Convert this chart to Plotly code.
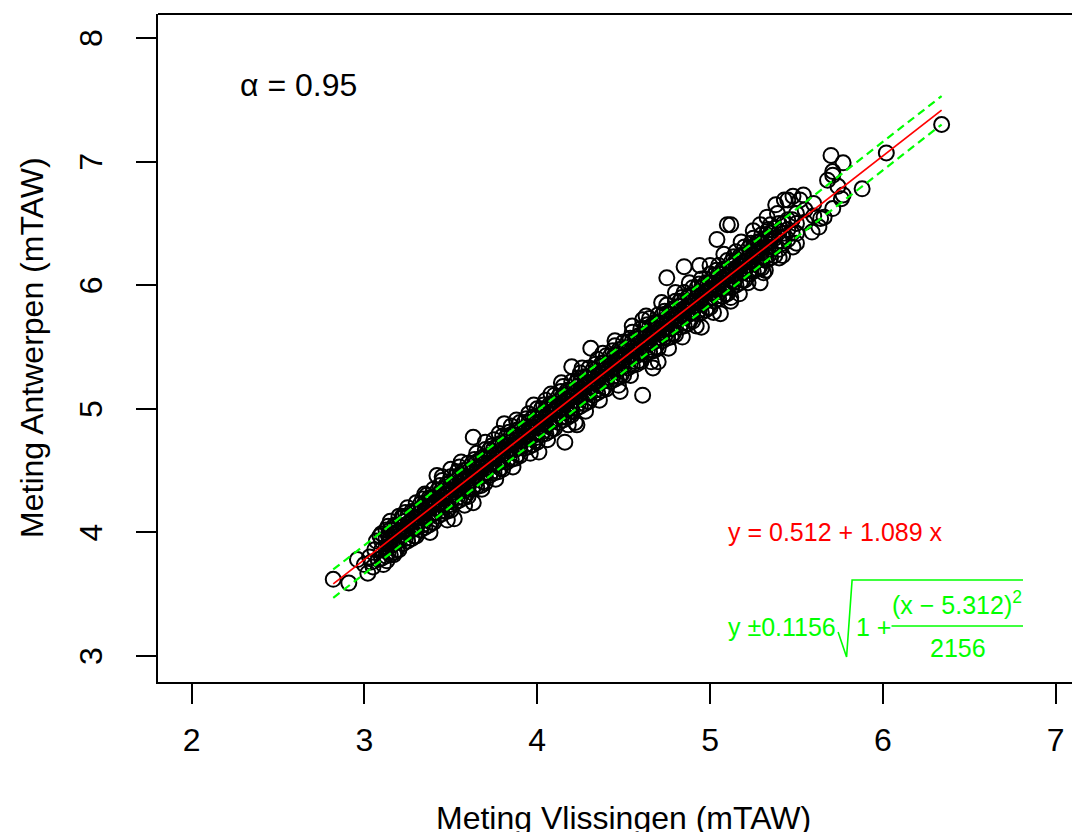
import plotly.graph_objects as go

# dense part of the cloud, one column of y values per x position
band_x = [3.10, 3.125, 3.15, 3.175, 3.20, 3.225, 3.25, 3.275, 3.30, 3.325,
          3.35, 3.375, 3.40, 3.425, 3.45, 3.475, 3.50, 3.525, 3.55, 3.575,
          3.60, 3.625, 3.65, 3.675, 3.70, 3.725, 3.75, 3.775, 3.80, 3.825,
          3.85, 3.875, 3.90, 3.925, 3.95, 3.975, 4.00, 4.025, 4.05, 4.075,
          4.10, 4.125, 4.15, 4.175, 4.20, 4.225, 4.25, 4.275, 4.30, 4.325,
          4.35, 4.375, 4.40, 4.425, 4.45, 4.475, 4.50, 4.525, 4.55, 4.575,
          4.60, 4.625, 4.65, 4.675, 4.70, 4.725, 4.75, 4.775, 4.80, 4.825,
          4.85, 4.875, 4.90, 4.925, 4.95, 4.975, 5.00, 5.025, 5.05, 5.075,
          5.10, 5.125, 5.15, 5.175, 5.20, 5.225, 5.25, 5.275, 5.30, 5.325,
          5.35, 5.375, 5.40, 5.425, 5.45, 5.475, 5.50, 5.55, 5.60]
band_y = [
    [3.79, 3.86, 3.93, 3.99], [3.81, 3.88, 3.95, 4.02], [3.82, 3.89, 3.96, 4.02, 4.09],
    [3.84, 3.91, 3.98, 4.06], [3.86, 3.93, 4.00, 4.06, 4.13], [3.91, 3.98, 4.05, 4.12],
    [3.93, 4.00, 4.07, 4.13, 4.20], [3.95, 4.02, 4.09, 4.17], [3.97, 4.04, 4.11, 4.17, 4.24],
    [4.02, 4.09, 4.16, 4.23], [4.04, 4.11, 4.18, 4.24, 4.31], [4.06, 4.13, 4.20, 4.28],
    [4.08, 4.15, 4.22, 4.28, 4.35], [4.13, 4.20, 4.27, 4.34], [4.15, 4.22, 4.29, 4.35, 4.42],
    [4.17, 4.24, 4.31, 4.39], [4.18, 4.25, 4.32, 4.38, 4.45], [4.24, 4.31, 4.38, 4.45],
    [4.26, 4.33, 4.40, 4.46, 4.53], [4.28, 4.35, 4.42, 4.50], [4.29, 4.36, 4.43, 4.49, 4.56],
    [4.35, 4.42, 4.49, 4.56], [4.37, 4.44, 4.51, 4.57, 4.64], [4.38, 4.45, 4.52, 4.60],
    [4.40, 4.47, 4.54, 4.60, 4.67], [4.46, 4.53, 4.60, 4.67], [4.48, 4.55, 4.62, 4.68, 4.75],
    [4.49, 4.56, 4.63, 4.71], [4.51, 4.58, 4.65, 4.71, 4.78], [4.57, 4.64, 4.71, 4.78],
    [4.59, 4.66, 4.73, 4.79, 4.86], [4.60, 4.67, 4.74, 4.82], [4.62, 4.69, 4.76, 4.82, 4.89],
    [4.68, 4.75, 4.82, 4.89], [4.69, 4.76, 4.83, 4.89, 4.96], [4.71, 4.78, 4.85, 4.93],
    [4.73, 4.80, 4.87, 4.93, 5.00], [4.79, 4.86, 4.93, 5.00], [4.80, 4.87, 4.94, 5.00, 5.07],
    [4.82, 4.89, 4.96, 5.04], [4.84, 4.91, 4.98, 5.04, 5.11], [4.89, 4.96, 5.03, 5.10],
    [4.91, 4.98, 5.05, 5.11, 5.18], [4.93, 5.00, 5.07, 5.15], [4.95, 5.02, 5.09, 5.15, 5.22],
    [5.00, 5.07, 5.14, 5.21], [5.02, 5.09, 5.16, 5.22, 5.29], [5.04, 5.11, 5.18, 5.26],
    [5.06, 5.13, 5.20, 5.26, 5.33], [5.11, 5.18, 5.25, 5.32], [5.13, 5.20, 5.27, 5.33, 5.40],
    [5.15, 5.22, 5.29, 5.37], [5.16, 5.23, 5.30, 5.36, 5.43], [5.22, 5.29, 5.36, 5.43],
    [5.24, 5.31, 5.38, 5.44, 5.51], [5.26, 5.33, 5.40, 5.48], [5.27, 5.34, 5.41, 5.47, 5.54],
    [5.33, 5.40, 5.47, 5.54], [5.35, 5.42, 5.49, 5.55, 5.62], [5.36, 5.43, 5.50, 5.58],
    [5.38, 5.45, 5.52, 5.58, 5.65], [5.44, 5.51, 5.58, 5.65], [5.46, 5.53, 5.60, 5.66, 5.73],
    [5.47, 5.54, 5.61, 5.69], [5.49, 5.56, 5.63, 5.69, 5.76], [5.55, 5.62, 5.69, 5.76],
    [5.57, 5.64, 5.71, 5.77, 5.84], [5.58, 5.65, 5.72, 5.80], [5.60, 5.67, 5.74, 5.80, 5.87],
    [5.66, 5.73, 5.80, 5.87], [5.67, 5.74, 5.81, 5.87, 5.94], [5.69, 5.76, 5.83, 5.91],
    [5.71, 5.78, 5.85, 5.91, 5.98], [5.77, 5.84, 5.91, 5.98], [5.78, 5.85, 5.92, 5.98, 6.05],
    [5.80, 5.87, 5.94, 6.02], [5.82, 5.89, 5.96, 6.02, 6.09], [5.87, 5.94, 6.01, 6.08],
    [5.89, 5.96, 6.03, 6.09, 6.16], [5.91, 5.98, 6.05, 6.13], [5.93, 6.00, 6.07, 6.13, 6.20],
    [5.98, 6.05, 6.12, 6.19], [6.00, 6.07, 6.14, 6.20, 6.27], [6.02, 6.09, 6.16, 6.24],
    [6.04, 6.11, 6.18, 6.24, 6.31], [6.09, 6.16, 6.23, 6.30], [6.11, 6.18, 6.25, 6.31, 6.38],
    [6.13, 6.20, 6.27, 6.35], [6.14, 6.21, 6.28, 6.34, 6.41], [6.20, 6.27, 6.34, 6.41],
    [6.22, 6.29, 6.36, 6.42, 6.49], [6.24, 6.31, 6.38, 6.46], [6.29, 6.36, 6.43, 6.50],
    [6.34, 6.42, 6.50], [6.37, 6.45, 6.53], [6.42, 6.53], [6.42, 6.50, 6.58],
    [6.51, 6.61], [6.56, 6.66],
]

# more of the dense part, in between the columns above
fill_x = [3.1375, 3.1875, 3.2375, 3.2875, 3.3375, 3.3875, 3.4375, 3.4875, 3.5375, 3.5875,
          3.6375, 3.6875, 3.7375, 3.7875, 3.8375, 3.8875, 3.9375, 3.9875, 4.0375, 4.0875,
          4.1375, 4.1875, 4.2375, 4.2875, 4.3375, 4.3875, 4.4375, 4.4875, 4.5375, 4.5875,
          4.6375, 4.6875, 4.7375, 4.7875, 4.8375, 4.8875, 4.9375, 4.9875, 5.0375, 5.0875,
          5.1375, 5.1875, 5.2375, 5.2875, 5.3375]
fill_y = [
    [3.84, 3.91, 3.98, 4.05], [3.86, 3.93, 4.00, 4.06], [3.95, 4.02, 4.09, 4.16],
    [3.97, 4.04, 4.11, 4.17], [4.06, 4.13, 4.20, 4.27], [4.08, 4.15, 4.22, 4.28],
    [4.17, 4.24, 4.31, 4.38], [4.19, 4.26, 4.33, 4.39], [4.28, 4.35, 4.42, 4.49],
    [4.30, 4.37, 4.44, 4.50], [4.38, 4.45, 4.52, 4.59], [4.41, 4.48, 4.55, 4.61],
    [4.49, 4.56, 4.63, 4.70], [4.52, 4.59, 4.66, 4.72], [4.60, 4.67, 4.74, 4.81],
    [4.63, 4.70, 4.77, 4.83], [4.71, 4.78, 4.85, 4.92], [4.74, 4.81, 4.88, 4.94],
    [4.82, 4.89, 4.96, 5.03], [4.84, 4.91, 4.98, 5.04], [4.93, 5.00, 5.07, 5.14],
    [4.95, 5.02, 5.09, 5.15], [5.04, 5.11, 5.18, 5.25], [5.06, 5.13, 5.20, 5.26],
    [5.15, 5.22, 5.29, 5.36], [5.17, 5.24, 5.31, 5.37], [5.26, 5.33, 5.40, 5.47],
    [5.28, 5.35, 5.42, 5.48], [5.36, 5.43, 5.50, 5.57], [5.39, 5.46, 5.53, 5.59],
    [5.47, 5.54, 5.61, 5.68], [5.50, 5.57, 5.64, 5.70], [5.58, 5.65, 5.72, 5.79],
    [5.61, 5.68, 5.75, 5.81], [5.69, 5.76, 5.83, 5.90], [5.72, 5.79, 5.86, 5.92],
    [5.80, 5.87, 5.94, 6.01], [5.82, 5.89, 5.96, 6.02], [5.91, 5.98, 6.05, 6.12],
    [5.93, 6.00, 6.07, 6.13], [6.02, 6.09, 6.16, 6.23], [6.04, 6.11, 6.18, 6.24],
    [6.13, 6.20, 6.27, 6.34], [6.15, 6.22, 6.29, 6.35], [6.24, 6.31, 6.38, 6.45],
]

# loose points: edges of the cloud and outliers
loose_x = [2.82, 2.91, 2.96, 3.02, 3.00, 3.03, 3.05, 3.06, 3.08, 3.04, 3.07, 3.11,
           3.13, 3.17, 3.16, 3.09, 3.22, 3.31, 3.36, 3.42, 3.50, 3.52, 3.63, 3.63,
           3.81, 4.01, 4.16, 4.22, 4.23, 4.20, 4.31, 4.48, 4.61, 4.67, 4.70, 4.61,
           4.75, 4.85, 4.94, 5.04, 5.10, 5.12, 4.95, 5.06, 5.12, 5.17, 5.29, 5.31,
           5.42, 5.48, 5.50, 5.29, 5.39, 5.38, 5.43, 5.45, 5.48, 5.52, 5.54, 5.59,
           5.63, 5.64, 5.66, 5.71, 5.76, 5.77, 5.74, 5.68, 5.71, 5.71, 5.70, 5.77,
           5.88, 6.02, 6.34,
           3.45, 3.56, 3.70, 3.78, 3.88, 3.98, 4.08, 4.14, 4.26, 4.38, 4.45, 4.55,
           4.63, 4.72, 4.80, 4.88, 5.00, 5.08, 5.18, 5.25, 5.33,
           3.38, 3.48, 3.58, 3.68, 3.76, 3.86, 3.96, 4.06, 4.18, 4.28, 4.36, 4.47,
           4.54, 4.66, 4.76, 4.84, 4.92, 5.02, 5.12, 5.22, 5.32, 5.40]
loose_y = [3.62, 3.59, 3.78, 3.67, 3.74, 3.80, 3.72, 3.86, 3.78, 3.76, 3.93, 3.74,
           3.77, 3.82, 3.91, 3.97, 4.13, 4.18, 4.30, 4.46, 4.51, 4.11, 4.24, 4.77,
           4.88, 4.65, 4.73, 4.89, 4.87, 5.34, 5.49, 5.14, 5.11, 5.33, 5.38, 5.72,
           6.06, 6.15, 6.16, 6.37, 6.49, 6.49, 5.66, 5.77, 5.87, 5.93, 6.02, 6.10,
           6.24, 6.31, 6.34, 6.49, 6.58, 6.65, 6.69, 6.69, 6.72, 6.69, 6.73, 6.43,
           6.47, 6.54, 6.55, 6.62, 6.70, 6.73, 6.80, 6.85, 6.89, 6.92, 7.05, 6.99,
           6.78, 7.07, 7.30,
           4.45, 4.57, 4.73, 4.80, 4.91, 5.03, 5.12, 5.21, 5.33, 5.45, 5.55, 5.67,
           5.75, 5.86, 5.94, 6.02, 6.16, 6.25, 6.35, 6.44, 6.55,
           4.00, 4.10, 4.22, 4.35, 4.43, 4.53, 4.64, 4.75, 4.87, 4.98, 5.07, 5.19,
           5.27, 5.38, 5.49, 5.58, 5.67, 5.78, 5.90, 6.02, 6.12, 6.22]

# fitted line and prediction band, ends
fit_x = [2.82, 6.34]
fit_y = [3.583, 7.416]
upper_y = [3.70, 7.53]
lower_y = [3.47, 7.30]

x_ticks = [2, 3, 4, 5, 6, 7]
y_ticks = [3, 4, 5, 6, 7, 8]

FONT = "Liberation Sans, Arial, sans-serif"
GREEN = "#00ff00"
RED = "#ff0000"

pts_x = ([x for x, ys in zip(band_x, band_y) for _ in ys]
         + [x for x, ys in zip(fill_x, fill_y) for _ in ys] + loose_x)
pts_y = [y for ys in band_y for y in ys] + [y for ys in fill_y for y in ys] + loose_y

fig = go.Figure()
fig.add_trace(go.Scatter(x=pts_x, y=pts_y, mode="markers",
                         marker=dict(symbol="circle-open", size=15, color="black",
                                     line=dict(width=2, color="black"))))
fig.add_trace(go.Scatter(x=fit_x, y=fit_y, mode="lines",
                         line=dict(color=RED, width=1.7)))
for yy in (upper_y, lower_y):
    fig.add_trace(go.Scatter(x=fit_x, y=yy, mode="lines",
                             line=dict(color=GREEN, width=2.2, dash="8px,5px")))

# top of the box (right side is cut off in the original)
fig.add_shape(type="line", xref="paper", yref="paper", x0=0, x1=1, y0=1, y1=1,
              line=dict(color="black", width=2))

txt = dict(showarrow=False, xref="x", yref="y", yanchor="middle")
fig.add_annotation(x=2.616, y=7.62, text="α = 0.95", xanchor="center",
                   font=dict(size=32, color="black", family=FONT), **txt)
fig.add_annotation(x=5.09, y=4.0, text="y = 0.512 + 1.089 x", xanchor="left",
                   font=dict(size=25, color=RED, family=FONT), **txt)
gfont = dict(size=25, color=GREEN, family=FONT)
fig.add_annotation(x=5.09, y=3.235, text="y ±0.1156", xanchor="left", font=gfont, **txt)
fig.add_annotation(x=5.835, y=3.235, text="1 +", xanchor="left", font=gfont, **txt)
fig.add_annotation(x=6.43, y=3.43, text="(x − 5.312)<sup>2</sup>", xanchor="center",
                   font=gfont, **txt)
fig.add_annotation(x=6.432, y=3.065, text="2156", xanchor="center", font=gfont, **txt)
# radical sign and fraction bar
fig.add_shape(type="path", xref="x", yref="y",
              path="M 5.741 3.194 L 5.790 2.992 L 5.822 3.615 L 6.811 3.615",
              line=dict(color=GREEN, width=1.6))
fig.add_shape(type="line", xref="x", yref="y", x0=6.050, x1=6.811, y0=3.243, y1=3.243,
              line=dict(color=GREEN, width=1.6))

# axis titles
fig.add_annotation(x=0.5054, y=-0.2036, xref="paper", yref="paper", showarrow=False,
                   xanchor="center", yanchor="middle",
                   text="Meting Vlissingen (mTAW)", font=dict(size=32, color="black", family=FONT))
fig.add_annotation(x=-0.1367, y=0.5015, xref="paper", yref="paper", showarrow=False,
                   xanchor="center", yanchor="middle",
                   text="Meting Antwerpen (mTAW)", textangle=-90,
                   font=dict(size=32, color="black", family=FONT))

# the page body has an 8px margin, so the figure is 8px smaller each way
fig.update_layout(
    width=1072, height=824,
    margin=dict(l=150, r=0, t=6, b=150),
    paper_bgcolor="white", plot_bgcolor="white",
    showlegend=False,
    font=dict(family=FONT, size=32, color="black"),
)
fig.update_xaxes(range=[1.806, 7.1406], tickvals=x_ticks, ticks="outside", ticklen=20,
                 tickwidth=1.5, tickcolor="black", showgrid=False, zeroline=False,
                 showline=True, linecolor="black", linewidth=2, mirror=False,
                 ticklabelstandoff=9, automargin=False)
fig.update_yaxes(range=[2.7896, 8.1942], tickvals=y_ticks, ticks="outside", ticklen=20,
                 tickwidth=1.5, tickcolor="black", showgrid=False, zeroline=False,
                 showline=True, linecolor="black", linewidth=2, mirror=False,
                 tickangle=-90, ticklabelstandoff=21, ticklabelshift=5, automargin=False)

fig.write_html("out.html")
